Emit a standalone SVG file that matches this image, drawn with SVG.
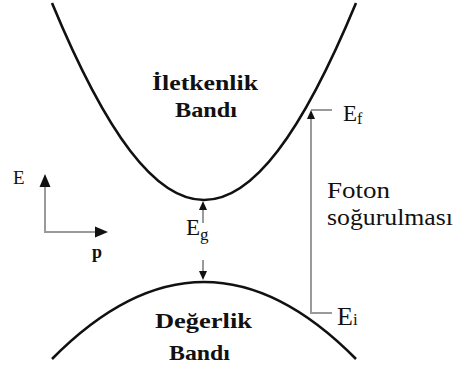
<svg xmlns="http://www.w3.org/2000/svg" width="455" height="368" viewBox="0 0 455 368">
<style>
.band{fill:none;stroke:#111;stroke-width:2.6}
.gl{fill:none;stroke:#9a9a9a;stroke-width:2}
.ah{fill:#111}
text{font-family:'Liberation Serif','DejaVu Serif',serif;fill:#111}
.b{font-weight:bold}
</style>
<rect width="455" height="368" fill="#fff"/>
<g id="conduction-band">
<path class="band" d="M52,3 C161,265.7 247,265.7 356,3"/>
<text class="b" x="152" y="90" font-size="22" textLength="106" lengthAdjust="spacingAndGlyphs">İletkenlik</text>
<text class="b" x="175" y="117" font-size="22" textLength="62" lengthAdjust="spacingAndGlyphs">Bandı</text>
</g>
<g id="valence-band">
<path class="band" d="M52,359 Q204,205 356,359"/>
<text class="b" x="155" y="328" font-size="22" textLength="97" lengthAdjust="spacingAndGlyphs">Değerlik</text>
<text class="b" x="169" y="360" font-size="22" textLength="61" lengthAdjust="spacingAndGlyphs">Bandı</text>
</g>
<g id="axes">
<path class="gl" d="M45,183 V232 H98"/>
<path class="ah" d="M45,174 L39.5,187 L50.5,187 Z"/>
<path class="ah" d="M108,232 L95,226.5 L95,237.5 Z"/>
<text x="13" y="184" font-size="19">E</text>
<text class="b" x="92" y="258" font-size="18">p</text>
</g>
<g id="gap">
<path class="gl" d="M203,206 V223 M203,260 V274" stroke="#555"/>
<path class="ah" d="M203,201 L199,210 L207,210 Z"/>
<path class="ah" d="M203,280 L199,271 L207,271 Z"/>
<text x="186" y="235" font-size="23">E<tspan font-size="17" dy="5">g</tspan></text>
</g>
<g id="photon">
<path class="gl" d="M311,118 V313 H332 M311,110 H332"/>
<path class="ah" d="M311,110 L307,119 L315,119 Z"/>
<text x="343" y="121" font-size="23">E<tspan font-size="16" dy="3">f</tspan></text>
<text x="337" y="325" font-size="26">E<tspan font-size="17" dy="0">i</tspan></text>
<text x="327" y="198" font-size="23" textLength="63" lengthAdjust="spacingAndGlyphs">Foton</text>
<text x="327" y="225" font-size="23" textLength="126" lengthAdjust="spacingAndGlyphs">soğurulması</text>
</g>
</svg>
